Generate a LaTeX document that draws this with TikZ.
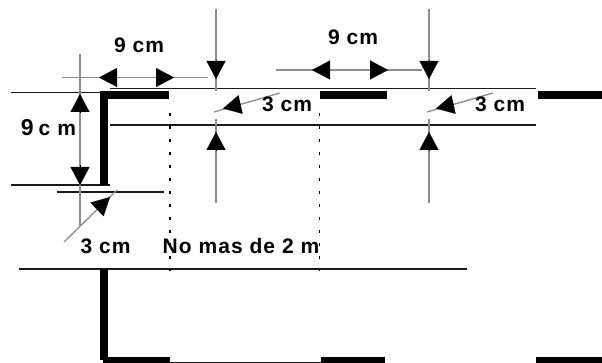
\documentclass[tikz,border=0pt]{standalone}
\usepackage{fontspec}
\setmainfont{Liberation Sans}[LetterSpace=5]
\usetikzlibrary{arrows.meta}
\tikzset{
	thinline/.style={line width=1.6pt, black!90},
	dimline/.style={line width=1.3pt, black!45},
	heavy/.style={fill=black, draw=none},
	dotline/.style={line width=1.2pt, black, dash pattern=on 3.5pt off 9.5pt},
	dimhead/.style={-{Triangle[length=18pt, width=19pt]}, line width=0.1pt, black},
	dimtext/.style={inner sep=0pt, font=\fontsize{21}{24}\selectfont\bfseries}
}
\begin{document}
\begin{tikzpicture}[x=1pt, y=-1pt]
	\useasboundingbox (0,0) rectangle (602,363);

	% beams
	\draw[thinline] (110,88.5) -- (535.5,88.5);
	\draw[thinline] (110,125) -- (535.5,125);
	\draw[thinline] (11,92.5) -- (100,92.5);
	\draw[thinline] (11,185) -- (110,185);
	\draw[thinline] (57,192) -- (164,192);
	\draw[thinline] (19,269) -- (467,269);
	\draw[thinline] (103,362.3) -- (321,362.3);

	% thick parts
	\fill[heavy] (100,91) rectangle (169,99);
	\fill[heavy] (100,91) rectangle (107.5,185);
	\fill[heavy] (320,91) rectangle (387,99);
	\fill[heavy] (538,91) rectangle (602,99);
	\fill[heavy] (100,269) rectangle (107.5,360);
	\fill[heavy] (103,357) rectangle (170,363);
	\fill[heavy] (321,357) rectangle (385,363);
	\fill[heavy] (536,357) rectangle (602,363);

	% dotted limits
	\foreach \x in {170, 319.7}
	{
		\draw[dotline] (\x,113) -- (\x,271);
	}

	% dimensions
	\draw[dimline] (62,77.5) -- (208,77.5);
	\draw[dimline] (80,54) -- (80,226);
	\draw[dimline] (276,70) -- (422,70);
	\foreach \x in {216, 429}
	{
		\draw[dimline] (\x,9) -- (\x,91);
		\draw[dimline] (\x,119) -- (\x,203);
		\draw[dimline] (\x-2,112) -- (\x+64,93);
		\draw[dimhead] (\x,60) -- (\x,79);
		\draw[dimhead] (\x,151) -- (\x,132);
		\draw[dimhead] (\x+22.5,105) -- (\x+7,108.5);
	}
	\draw[dimline] (64,242) -- (117,190);
	\draw[dimhead] (115,77.5) -- (99,77.5);
	\draw[dimhead] (158,77.5) -- (174,77.5);
	\draw[dimhead] (328,70) -- (312,70);
	\draw[dimhead] (372,70) -- (388,70);
	\draw[dimhead] (80,113) -- (80,94);
	\draw[dimhead] (80,165) -- (80,185);
	\draw[dimhead] (97.5,209) -- (110,197);

	% labels
	\node[dimtext] (nine a) at (139,45) {9 cm};
	\node[dimtext] (nine b) at (353,37) {9 cm};
	\node[dimtext] (three a) at (287,104) {3 cm};
	\node[dimtext] (three b) at (500,104) {3 cm};
	\node[dimtext] (nine c) at (48.5,128) {{\fontsize{23}{24}\selectfont 9}\hspace{5pt}c\hspace{7pt}m};
	\node[dimtext] (three c) at (105.5,246) {3 cm};
	\node[dimtext] (nomas) at (241,246) {No mas de 2 m};
\end{tikzpicture}
\end{document}
